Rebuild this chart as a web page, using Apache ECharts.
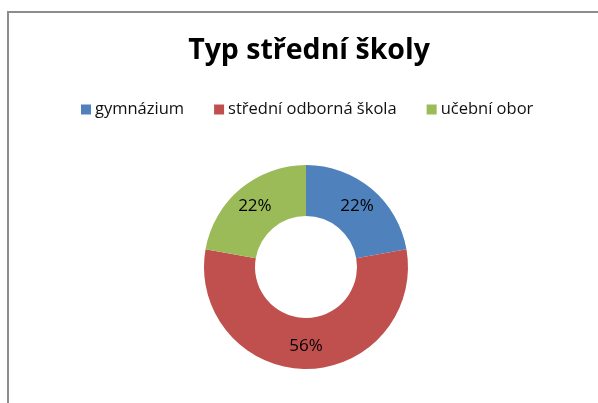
<!DOCTYPE html>
<html>
<head>
<meta charset="utf-8">
<script src="https://cdn.jsdelivr.net/npm/echarts@6/dist/echarts.min.js"></script>
<style>
  html, body { margin: 0; padding: 0; background: #fff; }
  #chart { width: 598px; height: 403px; }
</style>
</head>
<body>
<div id="chart"></div>
<script>
  // data
  const categories = ['gymnázium', 'střední odborná škola', 'učební obor']
  const values = [2, 5, 2]
  const colors = ['#4F81BD', '#C0504D', '#9BBB59']

  const chart = echarts.init(document.getElementById('chart'))

  chart.setOption({
    animation: false,
    color: colors,
    title: {
      text: 'Typ střední školy',
      left: 304,
      textAlign: 'center',
      top: 31,
      textStyle: {
        fontFamily: 'Open Sans',
        fontSize: 28.5,
        fontWeight: 'bold',
        color: '#000'
      }
    },
    legend: {
      data: categories,
      top: 96,
      left: 76,
      icon: 'rect',
      itemWidth: 10,
      itemHeight: 10,
      itemGap: 30,
      textStyle: {
        fontFamily: 'Open Sans',
        fontSize: 16.5,
        color: '#111',
        padding: [0, 0, 0, -1]
      }
    },
    graphic: [
      {
        type: 'rect',
        silent: true,
        shape: { x: 8, y: 12, width: 700, height: 500 },
        style: { fill: 'none', stroke: '#8c8c8c', lineWidth: 2 }
      }
    ],
    series: [
      {
        type: 'pie',
        center: [306, 267],
        radius: [51, 102],
        startAngle: 90,
        clockwise: true,
        data: categories.map((name, i) => ({ name: name, value: values[i] })),
        itemStyle: { borderWidth: 0 },
        emphasis: { disabled: true },
        label: {
          show: true,
          position: 'inside',
          fontFamily: 'Open Sans',
          fontSize: 17,
          color: '#000',
          formatter: p => Math.round(p.percent) + '%'
        },
        labelLine: { show: false }
      }
    ]
  })
</script>
</body>
</html>
